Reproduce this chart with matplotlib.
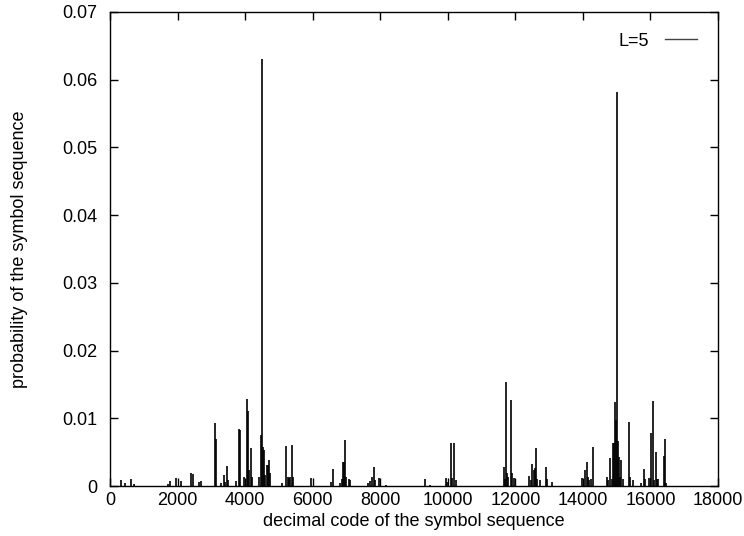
import numpy as np
import matplotlib
matplotlib.use("Agg")
import matplotlib.pyplot as plt
from matplotlib.lines import Line2D

plt.rcParams['font.family'] = ['Liberation Sans', 'DejaVu Sans']

# spikes: code, probability
codes = [331, 430, 607, 700, 1713, 1783, 1961, 2109, 2405, 2455, 2633, 2683,
         3106, 3146, 3294, 3363, 3412, 3472, 3500, 3719, 3818, 3848, 3966,
         4045, 4084, 4114, 4173, 4212, 4400, 4469, 4508, 4538, 4568, 4597,
         4647, 4676, 4716, 4745, 5101, 5220, 5259, 5299, 5338, 5398, 5427,
         5961, 6554, 6613, 6801, 6870, 6909, 6939, 6968, 6998, 7077, 7117,
         7640, 7709, 7758, 7808, 7847, 7956, 8163,
         9319, 9486, 9941, 9980, 10109, 10139, 10198, 10238,
         11659, 11689, 11719, 11758, 11787, 11857, 11896, 11956,
         12410, 12449, 12508, 12548, 12577, 12607, 12637, 12725, 12904, 12943,
         13072, 13961, 14070, 14109, 14139, 14178, 14247, 14306,
         14701, 14751, 14810, 14850, 14879, 14909, 14939, 14968, 15008,
         15037, 15067, 15096, 15136, 15175, 15353, 15383, 15471,
         15708, 15817, 15846, 15945, 16024, 16064, 16103, 16163, 16192,
         16232, 16390, 16419, 16449]
probs = [0.0009, 0.0004, 0.0011, 0.0003, 0.0003, 0.0008, 0.0012, 0.0007,
         0.0019, 0.0018, 0.0006, 0.0007,
         0.00925, 0.0070, 0.0004, 0.0017, 0.0006, 0.0029, 0.0009, 0.0007,
         0.0085, 0.0083, 0.0013,
         0.0129, 0.0111, 0.0024, 0.0057, 0.0014, 0.0013, 0.0075, 0.0631,
         0.0058, 0.0053, 0.0016,
         0.0031, 0.0031, 0.0039, 0.0019, 0.0004, 0.0059, 0.0014, 0.0012,
         0.0014, 0.0060, 0.0014,
         0.0012, 0.0006, 0.0025, 0.0004, 0.0011, 0.0036, 0.0036, 0.0068,
         0.0014, 0.0010, 0.0009,
         0.0005, 0.0008, 0.0014, 0.0028, 0.0009, 0.0012, 0.0002,
         0.0011, 0.0002, 0.0012, 0.0006, 0.0063, 0.0012, 0.0063, 0.0009,
         0.0028, 0.0010, 0.0153, 0.0019, 0.0014, 0.0127, 0.0020, 0.0012,
         0.0015, 0.0009, 0.0032, 0.0024, 0.0027, 0.0057, 0.0011, 0.0009,
         0.0028, 0.0011,
         0.0006, 0.0012, 0.0024, 0.0035, 0.0014, 0.0009, 0.0011, 0.0058,
         0.0013, 0.0009, 0.0042, 0.0010, 0.0063, 0.0063, 0.0124, 0.0097,
         0.0582,
         0.0067, 0.0043, 0.0014, 0.0038, 0.0011, 0.0094, 0.0014, 0.0009,
         0.0005, 0.0025, 0.0010, 0.0012, 0.0079, 0.0125, 0.0009, 0.0051,
         0.0010,
         0.0011, 0.0044, 0.0070, 0.0004]

xticks = [0, 2000, 4000, 6000, 8000, 10000, 12000, 14000, 16000, 18000]
yticks = [0, 0.01, 0.02, 0.03, 0.04, 0.05, 0.06, 0.07]
ytick_labels = ["0", "0.01", "0.02", "0.03", "0.04", "0.05", "0.06", "0.07"]

fig = plt.figure(figsize=(7.44, 5.36), dpi=100)
ax = fig.add_axes([0.148, 0.093, 0.817, 0.885])

ax.vlines(codes, 0, probs, colors="black", linewidth=1.2)

ax.set_xlim(0, 18000)
ax.set_ylim(0, 0.07)
ax.set_xticks(xticks)
ax.set_xticklabels([str(t) for t in xticks])
ax.set_yticks(yticks)
ax.set_yticklabels(ytick_labels)
ax.tick_params(direction="in", length=6, width=1, top=True, right=True,
               labelsize=13)
ax.tick_params(axis="x", pad=4)
ax.tick_params(axis="y", pad=9)
for s in ax.spines.values():
    s.set_linewidth(1)

ax.set_xlabel("decimal code of the symbol sequence", fontsize=13)
ax.xaxis.set_label_coords(0.5, -0.056)
ax.set_ylabel("probability of the symbol sequence", fontsize=13)
ax.yaxis.set_label_coords(-0.135, 0.5)

h = Line2D([], [], color="#444444", linewidth=1)
ax.legend([h], ["L=5"], loc="upper right", frameon=False, markerfirst=False,
          fontsize=13, handlelength=1.8, handletextpad=0.85,
          borderaxespad=0.75)

fig.savefig("out.png", dpi=100)
